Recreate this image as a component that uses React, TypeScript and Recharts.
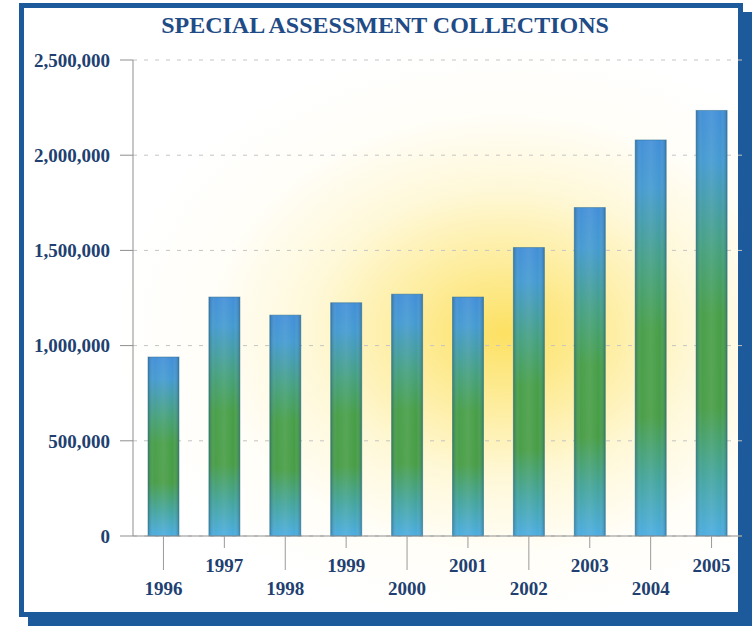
import { Bar, BarChart, CartesianGrid, XAxis, YAxis } from 'recharts'

const years = ['1996', '1997', '1998', '1999', '2000', '2001', '2002', '2003', '2004', '2005']
const collections = [940000, 1255000, 1160000, 1225000, 1270000, 1255000, 1515000, 1725000, 2080000, 2235000]
const yTicks = [0, 500000, 1000000, 1500000, 2000000, 2500000]

const data = years.map((year, i) => ({ year, amount: collections[i] }))

const FRAME = '#1d5a9b'
const LABEL = '#213f70'
const FONT = '"Liberation Serif", "Times New Roman", serif'

function YearTick(props: any) {
  const { x, y, index, payload } = props
  const low = index % 2 === 0
  return (
    <g>
      <line x1={x} x2={x} y1={y} y2={y + (low ? 34 : 12)} stroke="#9a9a9a" strokeWidth={1} />
      <text
        x={x}
        y={y + (low ? 59 : 36)}
        textAnchor="middle"
        fill={LABEL}
        fontFamily={FONT}
        fontWeight="bold"
        fontSize={19}
      >
        {payload.value}
      </text>
    </g>
  )
}

function ShadedBar(props: any) {
  const { x, y, width, height } = props
  if (!height || height <= 0) return null
  return (
    <g>
      <rect x={x} y={y} width={width} height={height} fill="url(#barFill)" />
      <rect x={x} y={y} width={width} height={height} fill="url(#barEdge)" />
      <rect x={x} y={y} width={width} height={height} fill="none" stroke="#2f6f8e" strokeOpacity={0.5} strokeWidth={1} />
    </g>
  )
}

export default function App() {
  return (
    <div style={{ position: 'absolute', left: 0, top: 0, width: 756, height: 627, background: '#fff', overflow: 'hidden' }}>
      <div
        style={{
          position: 'absolute',
          left: 19,
          top: 3,
          width: 714,
          height: 604,
          border: `5px solid ${FRAME}`,
          boxShadow: `9px 9px 0 ${FRAME}`,
          background:
            'radial-gradient(ellipse 390px 290px at 480px 325px, rgba(252,222,85,0.92) 0%, rgba(253,230,120,0.72) 25%, rgba(254,240,170,0.45) 50%, rgba(255,248,215,0.2) 75%, rgba(255,255,255,0) 100%), #fff',
        }}
      />
      <div
        style={{
          position: 'absolute',
          left: 0,
          width: 770,
          top: 12,
          textAlign: 'center',
          fontFamily: FONT,
          fontWeight: 'bold',
          fontSize: 24,
          color: '#1f4c86',
        }}
      >
        SPECIAL ASSESSMENT COLLECTIONS
      </div>
      <div style={{ position: 'absolute', left: 0, top: 0 }}>
        <BarChart width={756} height={627} data={data} margin={{ top: 60, right: 14, left: 0, bottom: 61 }}>
          <defs>
            <linearGradient id="barFill" x1="0" y1="0" x2="0" y2="1">
              <stop offset="0%" stopColor="#3a8ad6" />
              <stop offset="12%" stopColor="#3c96cf" />
              <stop offset="32%" stopColor="#3d9c7a" />
              <stop offset="48%" stopColor="#3f9a40" />
              <stop offset="70%" stopColor="#40993e" />
              <stop offset="86%" stopColor="#3ca19a" />
              <stop offset="100%" stopColor="#44a9e0" />
            </linearGradient>
            <linearGradient id="barEdge" x1="0" y1="0" x2="1" y2="0">
              <stop offset="0%" stopColor="#1a4a6a" stopOpacity={0.35} />
              <stop offset="20%" stopColor="#ffffff" stopOpacity={0.06} />
              <stop offset="50%" stopColor="#ffffff" stopOpacity={0.12} />
              <stop offset="80%" stopColor="#ffffff" stopOpacity={0.04} />
              <stop offset="100%" stopColor="#1a4a6a" stopOpacity={0.35} />
            </linearGradient>
          </defs>
          <CartesianGrid vertical={false} stroke="#c4c4c4" strokeDasharray="4 7" />
          <XAxis
            dataKey="year"
            axisLine={{ stroke: '#8f8f8f' }}
            tickLine={false}
            tickSize={0}
            tickMargin={0}
            interval={0}
            tick={<YearTick />}
          />
          <YAxis
            width={133}
            domain={[0, 2500000]}
            ticks={yTicks}
            interval={0}
            axisLine={{ stroke: '#8f8f8f' }}
            tickLine={{ stroke: '#8f8f8f' }}
            tickSize={13}
            tickMargin={10}
            tickFormatter={(v) => Number(v).toLocaleString('en-US')}
            tick={{ fill: LABEL, fontFamily: FONT, fontWeight: 'bold', fontSize: 19 }}
          />
          <Bar dataKey="amount" barSize={31} shape={<ShadedBar />} isAnimationActive={false} />
        </BarChart>
      </div>
    </div>
  )
}
